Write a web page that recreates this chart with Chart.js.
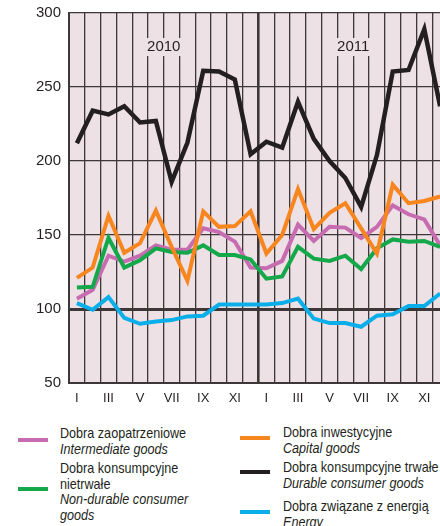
<!DOCTYPE html>
<html>
<head>
<meta charset="utf-8">
<script src="https://cdn.jsdelivr.net/npm/chart.js@4/dist/chart.umd.min.js"></script>
<style>
  html, body { margin: 0; padding: 0; background: #fff; overflow: hidden; }
  body { width: 440px; height: 526px; position: relative; font-family: "Liberation Sans", Arial, sans-serif; color: #231f20; }
  #wrap { position: absolute; left: 0; top: 0; width: 452px; height: 410px; }
  .sw { position: absolute; width: 30px; height: 4px; }
  .lg { position: absolute; font-size: 15px; line-height: 15.5px; white-space: nowrap;
        transform: scaleX(0.84); transform-origin: 0 0; }
  .lg i { font-style: italic; }
</style>
</head>
<body>
<div id="wrap"><canvas id="cvs_line"></canvas></div>

<div class="sw" style="left:18px; top:438px; background:#c86cb2;"></div>
<div class="lg" style="left:60px; top:425px;">Dobra zaopatrzeniowe<br><i>Intermediate goods</i></div>
<div class="sw" style="left:18px; top:487px; background:#14a84b;"></div>
<div class="lg" style="left:60px; top:460px;">Dobra konsumpcyjne<br>nietrwałe<br><i>Non-durable consumer<br>goods</i></div>

<div class="sw" style="left:240px; top:436px; background:#f7861f;"></div>
<div class="lg" style="left:283px; top:424px;">Dobra inwestycyjne<br><i>Capital goods</i></div>
<div class="sw" style="left:240px; top:470px; background:#231f20;"></div>
<div class="lg" style="left:283px; top:459px;">Dobra konsumpcyjne trwałe<br><i>Durable consumer goods</i></div>
<div class="sw" style="left:240px; top:510px; background:#0aafe9;"></div>
<div class="lg" style="left:283px; top:498px;">Dobra związane z energią<br><i>Energy</i></div>

<script>
var months = ["I", "II", "III", "IV", "V", "VI", "VII", "VIII", "IX", "X", "XI", "XII",
              "I", "II", "III", "IV", "V", "VI", "VII", "VIII", "IX", "X", "XI", "XII"];
var years = ["2010", "2011"];
var yTicks = [50, 100, 150, 200, 250, 300];

var intermediate = [107, 113, 136, 132, 136, 143, 140, 140, 154.5, 152, 145.5, 128,
                    127.5, 132.5, 157, 146, 155.5, 155, 148, 155.5, 170, 164, 160.5, 143];
var nonDurable = [114.5, 115, 148, 128, 133, 141, 138.5, 138, 143, 136.5, 136.5, 133.5,
                  120.5, 122, 142, 134, 132.5, 136, 127, 141, 147, 145.5, 146, 142];
var capital = [121, 128, 163, 138, 144.5, 166.5, 142, 119, 166, 155.5, 156, 166,
               137.5, 150, 181, 154, 165, 171.5, 154.5, 137.5, 184, 171.5, 173, 176];
var durable = [212, 234, 231.5, 237, 226, 227, 186, 212.5, 261, 260.5, 255, 204.5,
               213, 209, 240, 215, 200, 188.5, 169, 204, 260.5, 261.5, 289, 237];
var energy = [104, 99.5, 108, 94, 90, 91.5, 92.5, 95, 95.5, 103, 103, 103,
              103, 104, 107, 93.5, 90.5, 90.5, 88, 95.5, 96.5, 102, 102, 110.5];

var gridColor = '#3e3738';
var fontFamily = '"Liberation Sans", Arial, sans-serif';

// pink plot background
var bgPlugin = {
    id: 'bg',
    beforeDraw: function(chart) {
        var a = chart.chartArea, c = chart.ctx;
        c.save();
        c.fillStyle = '#ede1e5';
        c.fillRect(a.left, a.top, a.right - a.left, a.bottom - a.top);
        c.restore();
    }
};

// year captions with a pink box over the grid
var yearPlugin = {
    id: 'years',
    beforeDatasetsDraw: function(chart) {
        var c = chart.ctx, x = chart.scales.x, y = chart.scales.y;
        c.save();
        c.font = '15px ' + fontFamily;
        c.textAlign = 'center';
        c.textBaseline = 'middle';
        years.forEach(function(yr, i) {
            var cx = (x.getPixelForTick(i * 12 + 5) + x.getPixelForTick(i * 12 + 6)) / 2;
            var cy = y.getPixelForValue(277);
            var w = c.measureText(yr).width + 4;
            c.fillStyle = '#ede1e5';
            c.fillRect(cx - w / 2, cy - 9, w, 18);
            c.fillStyle = '#231f20';
            c.fillText(yr, cx, cy);
        });
        c.restore();
    }
};

function line(label, data, color, width, order) {
    return {
        label: label,
        data: data,
        borderColor: color,
        backgroundColor: color,
        borderWidth: width,
        pointRadius: 0,
        tension: 0,
        fill: false,
        borderJoinStyle: 'miter',
        order: order
    };
}

var config = {
    type: 'line',
    data: {
        labels: months,
        datasets: [
            line('Dobra zaopatrzeniowe', intermediate, '#c86cb2', 4, 3),
            line('Dobra konsumpcyjne nietrwałe', nonDurable, '#14a84b', 4, 2),
            line('Dobra inwestycyjne', capital, '#f7861f', 4, 1),
            line('Dobra konsumpcyjne trwałe', durable, '#231f20', 4.5, 0),
            line('Dobra związane z energią', energy, '#0aafe9', 4, 4)
        ]
    },
    options: {
        responsive: true,
        maintainAspectRatio: false,
        animation: false,
        layout: { padding: { top: 13, right: 4, left: 0, bottom: 0 } },
        plugins: {
            legend: { display: false },
            title: { display: false },
            tooltip: { enabled: false }
        },
        scales: {
            x: {
                type: 'category',
                offset: true,
                grid: {
                    offset: true,
                    drawTicks: false,
                    color: gridColor,
                    lineWidth: function(ctx) { return ctx.index === 12 ? 2.6 : 1.3; }
                },
                border: { display: true, color: gridColor, width: 2 },
                ticks: {
                    autoSkip: false,
                    maxRotation: 0,
                    padding: 8,
                    color: '#231f20',
                    font: { family: fontFamily, size: 13 },
                    callback: function(v, i) { return i % 2 === 0 ? months[i] : ''; }
                },
                afterFit: function(s) { s.height = 27; s.paddingLeft = 0; s.paddingRight = 0; }
            },
            y: {
                min: yTicks[0],
                max: yTicks[yTicks.length - 1],
                afterBuildTicks: function(s) {
                    s.ticks = yTicks.map(function(v) { return { value: v }; });
                },
                grid: {
                    drawTicks: false,
                    color: gridColor,
                    lineWidth: function(ctx) { return ctx.tick && ctx.tick.value === 100 ? 3 : 1.3; }
                },
                border: { display: true, color: gridColor, width: 2 },
                ticks: {
                    padding: 8,
                    color: '#231f20',
                    font: { family: fontFamily, size: 15 }
                },
                afterFit: function(s) { s.width = 69; s.paddingTop = 0; s.paddingBottom = 0; }
            }
        }
    },
    plugins: [bgPlugin, yearPlugin]
};

window.onload = function() {
    window.myLine = new Chart(document.getElementById("cvs_line"), config);
};
</script>
</body>
</html>
